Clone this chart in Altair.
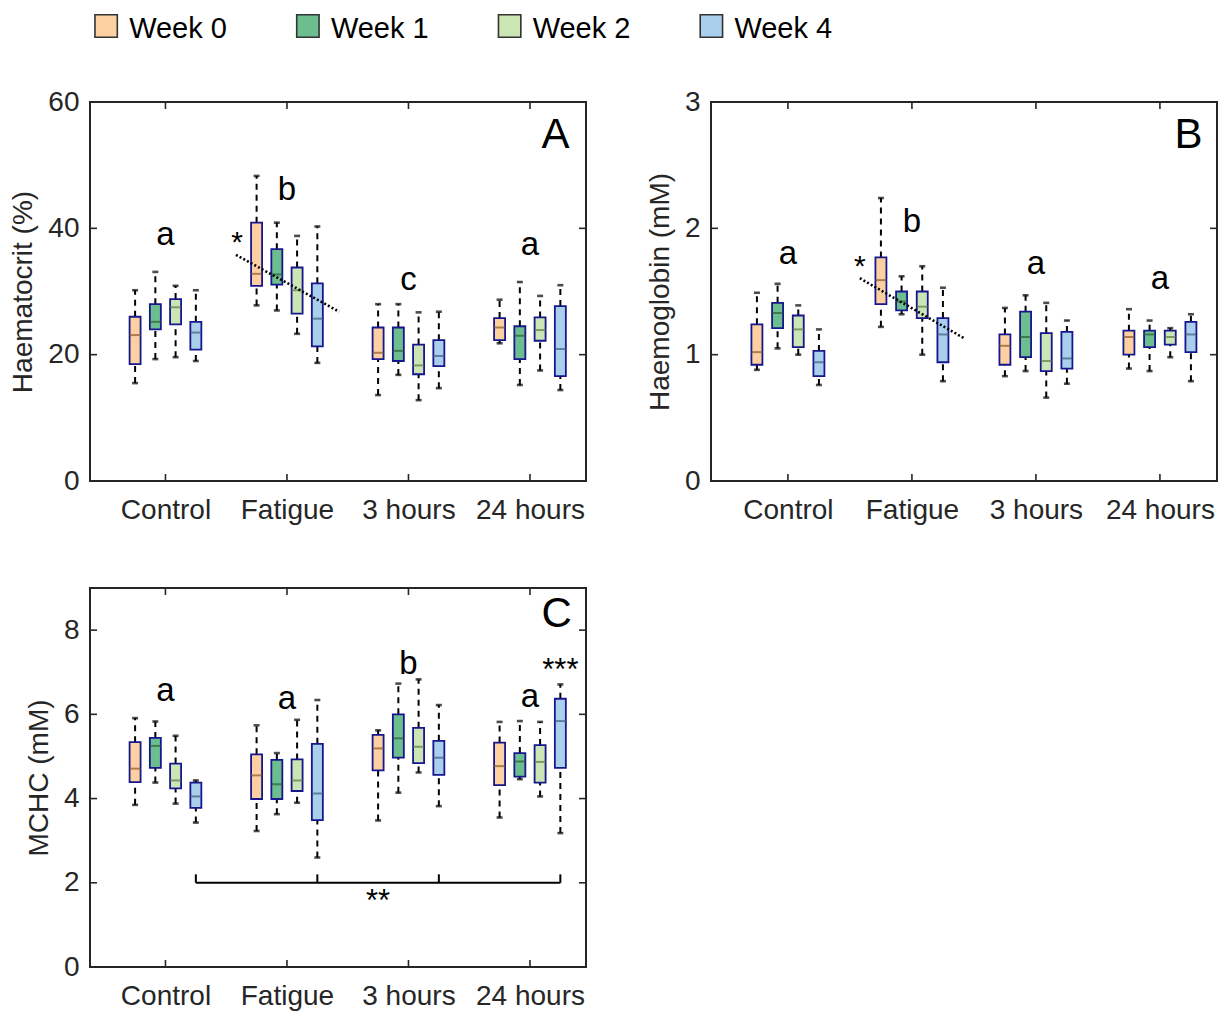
import json
import altair as alt
import pandas as pd

FONT = "Liberation Sans"
INK = "#262626"

categories = ["Control", "Fatigue", "3 hours", "24 hours"]
weeks = ["Week 0", "Week 1", "Week 2", "Week 4"]
legend_colors = ["#FDD0A2", "#6DBE8E", "#CCE5B5", "#AACFEC"]
box_fills = ["#FDD3A9", "#97C79A", "#D0E6B6", "#AACCEB"]
median_colors = ["#8A5A2E", "#2E5E35", "#5C7A46", "#3E5C7E"]
box_edge = "#16168E"

# ---- Panel A: Haematocrit (%)  [category][week]
hct_lower = [[15.5, 19.3, 19.6, 19.0], [27.8, 27.0, 23.3, 18.7], [13.6, 16.8, 12.8, 14.7], [21.8, 15.2, 17.5, 14.4]]
hct_q1 = [[18.5, 24.0, 24.8, 20.8], [30.9, 31.1, 26.5, 21.3], [19.3, 19.0, 16.9, 18.2], [22.3, 19.3, 22.2, 16.6]]
hct_median = [[23.1, 25.2, 27.5, 23.5], [32.8, 32.7, 30.2, 25.7], [20.3, 20.6, 18.3, 19.8], [24.3, 23.0, 23.9, 20.9]]
hct_q3 = [[26.0, 28.0, 28.8, 25.2], [40.9, 36.7, 33.8, 31.3], [24.3, 24.3, 21.6, 22.3], [25.8, 24.5, 25.9, 27.7]]
hct_upper = [[30.2, 33.1, 30.9, 30.2], [48.3, 40.9, 38.8, 40.3], [28.0, 28.0, 26.7, 26.8], [28.7, 31.5, 29.3, 31.0]]
hct_letters = ["a", "b", "c", "a"]
hct_letter_y = [38.9, 46.1, 31.8, 37.4]
hct_trend_x = [1.58, 2.43]
hct_trend_y = [35.8, 26.8]
hct_star = [1.59, 37.6]
hct_ticks = [0, 20, 40, 60]

# ---- Panel B: Haemoglobin (mM)
hb_lower = [[0.88, 1.05, 1.00, 0.76], [1.22, 1.32, 1.00, 0.79], [0.83, 0.87, 0.66, 0.77], [0.89, 0.87, 0.98, 0.79]]
hb_q1 = [[0.92, 1.21, 1.06, 0.83], [1.40, 1.35, 1.29, 0.94], [0.92, 0.98, 0.87, 0.89], [1.00, 1.06, 1.08, 1.02]]
hb_median = [[1.02, 1.33, 1.20, 0.94], [1.59, 1.42, 1.38, 1.16], [1.07, 1.14, 0.95, 0.97], [1.14, 1.16, 1.14, 1.16]]
hb_q3 = [[1.24, 1.41, 1.31, 1.03], [1.77, 1.50, 1.50, 1.29], [1.16, 1.34, 1.17, 1.18], [1.19, 1.19, 1.19, 1.26]]
hb_upper = [[1.49, 1.56, 1.39, 1.20], [2.24, 1.62, 1.70, 1.53], [1.37, 1.47, 1.41, 1.27], [1.36, 1.27, 1.21, 1.32]]
hb_letters = ["a", "b", "a", "a"]
hb_letter_y = [1.80, 2.05, 1.72, 1.60]
hb_trend_x = [1.58, 2.42]
hb_trend_y = [1.605, 1.13]
hb_star = [1.58, 1.69]
hb_ticks = [0, 1, 2, 3]

# ---- Panel C: MCHC (mM)
mchc_lower = [[3.85, 4.38, 3.88, 3.43], [3.23, 3.63, 3.90, 2.60], [3.48, 4.14, 4.62, 3.82], [3.55, 4.46, 4.05, 3.18]]
mchc_q1 = [[4.39, 4.73, 4.24, 3.78], [3.99, 3.99, 4.18, 3.49], [4.67, 4.97, 4.84, 4.56], [4.32, 4.52, 4.38, 4.73]]
mchc_median = [[4.71, 5.25, 4.43, 4.05], [4.55, 4.34, 4.43, 4.12], [5.19, 5.43, 5.23, 4.97], [4.77, 4.88, 4.87, 5.84]]
mchc_q3 = [[5.34, 5.44, 4.83, 4.38], [5.05, 4.92, 4.93, 5.30], [5.51, 6.00, 5.68, 5.37], [5.33, 5.08, 5.27, 6.37]]
mchc_upper = [[5.91, 5.83, 5.49, 4.43], [5.74, 5.08, 5.87, 6.34], [5.62, 6.73, 6.83, 6.22], [5.82, 5.84, 5.82, 6.71]]
mchc_letters = ["a", "a", "b", "a"]
mchc_letter_y = [6.56, 6.37, 7.20, 6.40]
mchc_ticks = [0, 2, 4, 6, 8]
bracket_y = [2.0, 2.2]
bracket_label = ["**", 2.75, 1.55]
triple_star = ["***", 4.25, 7.02]

panel_labels = ["A", "B", "C"]
panel_label_pos = [[4.21, 54.8], [4.23, 2.74], [4.22, 8.38]]

X_DOMAIN = [0.42, 4.42]
PLOT_H = 379
WEEK_STEP = 1.0 / 6.0


def box_frame(lower, q1, median, q3, upper):
    rows = []
    for g, cat in enumerate(categories):
        for w, wk in enumerate(weeks):
            rows.append({
                "cat": cat, "week": wk,
                "pos": (g + 1) + (w - 1.5) * WEEK_STEP,
                "lower": lower[g][w], "q1": q1[g][w], "median": median[g][w],
                "q3": q3[g][w], "upper": upper[g][w],
            })
    return pd.DataFrame(rows)


label_expr = json.dumps(categories) + "[datum.value - 1]"


def make_panel(df, ytitle, ydomain, yticks, width, letters, letter_y, plabel, ppos,
               trend=None, star=None, extra=None):
    xscale = alt.Scale(domain=X_DOMAIN, nice=False, zero=False)
    xaxis = alt.Axis(values=[1, 2, 3, 4], labelExpr=label_expr, ticks=False, domain=False,
                     grid=False, labelFontSize=28, labelFont=FONT, labelColor=INK,
                     labelPadding=15, title=None, labelFlush=False)
    yscale = alt.Scale(domain=ydomain, nice=False, zero=False)
    yaxis = alt.Axis(values=yticks, ticks=False, domain=False, grid=False, labelFontSize=28,
                     labelFont=FONT, labelColor=INK, labelPadding=11, title=ytitle,
                     titleFontSize=28, titleFont=FONT, titleFontWeight="normal",
                     titleColor=INK, titlePadding=10)

    def X(f):
        return alt.X(f, type="quantitative", scale=xscale, axis=xaxis)

    def Y(f):
        return alt.Y(f, type="quantitative", scale=yscale, axis=yaxis)

    base = alt.Chart(df)
    wdash = dict(color="black", strokeWidth=2, strokeDash=[6, 5])
    wh_up = base.mark_rule(**wdash).encode(x=X("pos"), y=Y("q3"), y2="upper")
    wh_lo = base.mark_rule(**wdash).encode(x=X("pos"), y=Y("lower"), y2="q1")
    cap_up = base.mark_tick(orient="horizontal", size=6, thickness=2.6, color="black").encode(
        x=X("pos"), y=Y("upper"))
    cap_lo = base.mark_tick(orient="horizontal", size=6, thickness=2.6, color="black").encode(
        x=X("pos"), y=Y("lower"))
    box = base.mark_bar(size=11, stroke=box_edge, strokeWidth=1.8).encode(
        x=X("pos"), y=Y("q1"), y2="q3",
        fill=alt.Fill("week:N", scale=alt.Scale(domain=weeks, range=box_fills), legend=None))
    med = base.mark_tick(orient="horizontal", size=11, thickness=2).encode(
        x=X("pos"), y=Y("median"),
        color=alt.Color("week:N", scale=alt.Scale(domain=weeks, range=median_colors), legend=None))

    ldf = pd.DataFrame({"g": [1, 2, 3, 4], "txt": letters, "y": letter_y})
    let = alt.Chart(ldf).mark_text(fontSize=33, font=FONT, color="black", baseline="middle").encode(
        x=X("g"), y=Y("y"), text="txt:N")

    pdf = pd.DataFrame({"x": [ppos[0]], "y": [ppos[1]], "txt": [plabel]})
    plet = alt.Chart(pdf).mark_text(fontSize=42, font=FONT, color="black", baseline="middle").encode(
        x=X("x"), y=Y("y"), text="txt:N")

    # inward ticks on all four sides
    ytdf = pd.DataFrame({"v": yticks})
    xtdf = pd.DataFrame({"v": [1, 2, 3, 4]})
    tk = dict(color=INK, strokeWidth=1.6)
    t_left = alt.Chart(ytdf).mark_rule(**tk).encode(y=Y("v"), x=alt.value(0), x2=alt.value(7))
    t_right = alt.Chart(ytdf).mark_rule(**tk).encode(y=Y("v"), x=alt.value(width - 7), x2=alt.value(width))
    t_bot = alt.Chart(xtdf).mark_rule(**tk).encode(x=X("v"), y=alt.value(PLOT_H - 7), y2=alt.value(PLOT_H))
    t_top = alt.Chart(xtdf).mark_rule(**tk).encode(x=X("v"), y=alt.value(0), y2=alt.value(7))

    layers = [t_left, t_right, t_bot, t_top, wh_up, wh_lo, box, med, cap_up, cap_lo, let, plet]

    if trend is not None:
        tdf = pd.DataFrame({"x": trend[0], "y": trend[1]})
        layers.append(alt.Chart(tdf).mark_line(color="black", strokeWidth=2.6, strokeDash=[2, 2.2]).encode(
            x=X("x"), y=Y("y")))
    if star is not None:
        sdf = pd.DataFrame({"x": [star[0]], "y": [star[1]], "txt": ["*"]})
        layers.append(alt.Chart(sdf).mark_text(fontSize=30, font=FONT, color="black", baseline="middle").encode(
            x=X("x"), y=Y("y"), text="txt:N"))
    if extra is not None:
        layers.extend(extra(X, Y))

    return alt.layer(*layers).properties(
        width=width, height=PLOT_H,
        view=alt.ViewBackground(stroke=INK, strokeWidth=2, strokeOpacity=1))


def mchc_extra(X, Y):
    w4 = [g + 1 + 1.5 * WEEK_STEP for g in range(4)]
    hdf = pd.DataFrame({"x": [w4[0]], "x2": [w4[-1]], "y": [bracket_y[0]]})
    hline = alt.Chart(hdf).mark_rule(color="black", strokeWidth=2).encode(x=X("x"), x2="x2", y=Y("y"))
    vdf = pd.DataFrame({"x": w4, "y": [bracket_y[0]] * 4, "y2": [bracket_y[1]] * 4})
    vlines = alt.Chart(vdf).mark_rule(color="black", strokeWidth=2).encode(x=X("x"), y=Y("y"), y2="y2")
    sdf = pd.DataFrame({"x": [bracket_label[1], triple_star[1]], "y": [bracket_label[2], triple_star[2]],
                        "txt": [bracket_label[0], triple_star[0]]})
    stars = alt.Chart(sdf).mark_text(fontSize=31, font=FONT, color="black", baseline="middle").encode(
        x=X("x"), y=Y("y"), text="txt:N")
    return [hline, vlines, stars]


panel_a = make_panel(box_frame(hct_lower, hct_q1, hct_median, hct_q3, hct_upper),
                     "Haematocrit (%)", [0, 60], hct_ticks, 496, hct_letters, hct_letter_y,
                     panel_labels[0], panel_label_pos[0], trend=(hct_trend_x, hct_trend_y), star=hct_star)
panel_b = make_panel(box_frame(hb_lower, hb_q1, hb_median, hb_q3, hb_upper),
                     "Haemoglobin (mM)", [0, 3], hb_ticks, 506, hb_letters, hb_letter_y,
                     panel_labels[1], panel_label_pos[1], trend=(hb_trend_x, hb_trend_y), star=hb_star)
panel_c = make_panel(box_frame(mchc_lower, mchc_q1, mchc_median, mchc_q3, mchc_upper),
                     "MCHC (mM)", [0, 9], mchc_ticks, 496, mchc_letters, mchc_letter_y,
                     panel_labels[2], panel_label_pos[2], extra=mchc_extra)

# custom legend row
legdf = pd.DataFrame({"idx": [0, 1, 2, 3], "week": weeks})
leg_x = alt.X("idx:Q", scale=alt.Scale(domain=[-0.08, 3.92], nice=False, zero=False), axis=None)
leg_sq = alt.Chart(legdf).mark_square(size=500, stroke="#333333", strokeWidth=1.6, opacity=1).encode(
    x=leg_x, y=alt.value(17),
    fill=alt.Fill("week:N", scale=alt.Scale(domain=weeks, range=legend_colors), legend=None))
leg_tx = alt.Chart(legdf).mark_text(align="left", dx=23, dy=3, fontSize=29, font=FONT, color="black",
                                    baseline="middle").encode(x=leg_x, y=alt.value(17), text="week:N")
legend = alt.layer(leg_sq, leg_tx).properties(
    width=807, height=30, view=alt.ViewBackground(strokeOpacity=0))

top = alt.vconcat(legend, alt.hconcat(panel_a, panel_b, spacing=57), spacing=43)
chart = alt.vconcat(top, panel_c, spacing=61).properties(
    padding={"left": 8, "top": 9, "right": 0, "bottom": 0}
).configure_view(strokeOpacity=0).configure_concat(spacing=0)

chart.save("out.html", embed_options={"renderer": "svg", "actions": False})
